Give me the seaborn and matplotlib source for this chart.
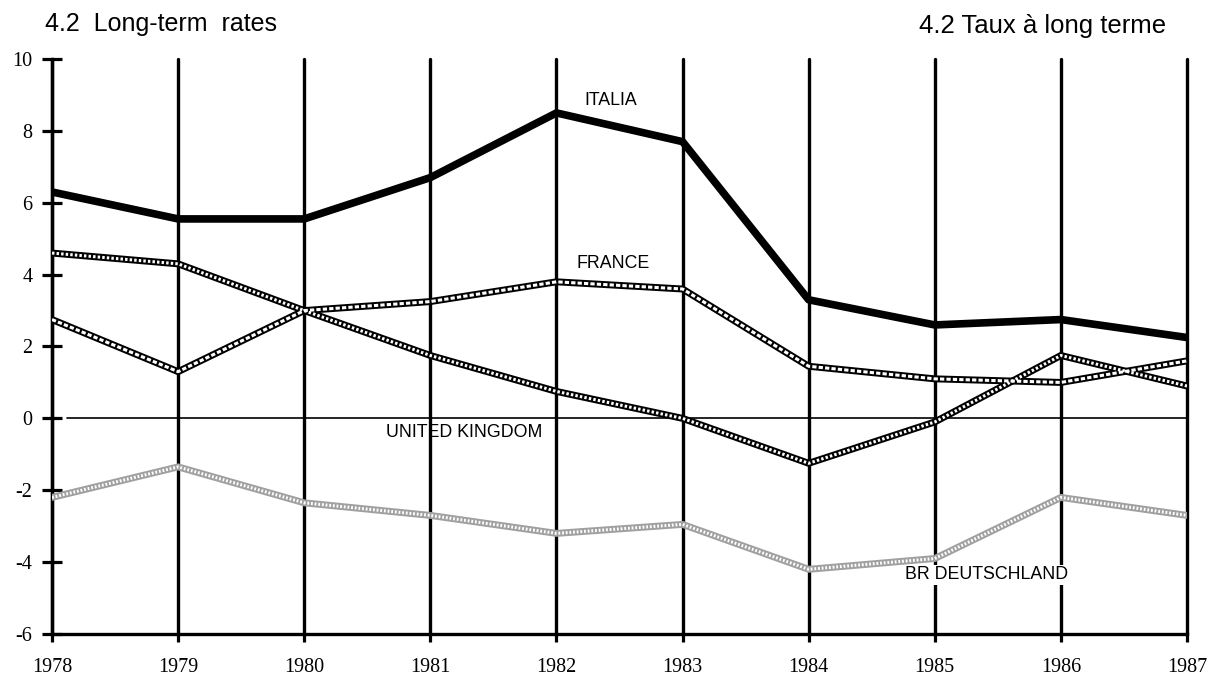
import numpy as np
import pandas as pd
import matplotlib
matplotlib.use("Agg")
import matplotlib.pyplot as plt
import seaborn as sns

# Long-term rates, differences
years = [1978, 1979, 1980, 1981, 1982, 1983, 1984, 1985, 1986, 1987]
italia = [6.3, 5.55, 5.55, 6.7, 8.5, 7.7, 3.3, 2.6, 2.75, 2.25]
france = [2.75, 1.3, 3.0, 3.25, 3.8, 3.6, 1.45, 1.1, 1.0, 1.6]
united_kingdom = [4.6, 4.3, 3.0, 1.75, 0.75, 0.0, -1.25, -0.1, 1.75, 0.9]
br_deutschland = [-2.2, -1.35, -2.35, -2.7, -3.2, -2.95, -4.2, -3.9, -2.2, -2.7]
y_ticks = [-6, -4, -2, 0, 2, 4, 6, 8, 10]

df = pd.DataFrame({"year": years, "ITALIA": italia, "FRANCE": france,
                   "UNITED KINGDOM": united_kingdom, "BR DEUTSCHLAND": br_deutschland})

sns.set_style("white", {"xtick.bottom": True, "ytick.left": True})
plt.rcParams['font.family'] = ['Liberation Sans', 'DejaVu Sans']
plt.rcParams['text.color'] = 'black'
plt.rcParams['xtick.color'] = 'black'
plt.rcParams['ytick.color'] = 'black'

fig = plt.figure(figsize=(12.21, 6.82), dpi=100)
ax = fig.add_axes([52 / 1221, 1 - 634 / 682, (1187 - 52) / 1221, (634 - 59) / 682])

# vertical year lines
for yr in years:
    ax.axvline(yr, color='black', lw=2.4, zorder=1, clip_on=False)
ax.axhline(0, xmin=0.013, color='black', lw=1.2, zorder=1)

# BR Deutschland: light grey stipple
sns.lineplot(data=df, x="year", y="BR DEUTSCHLAND", ax=ax, color='#a0a0a0', lw=5, zorder=3)
l = sns.lineplot(data=df, x="year", y="BR DEUTSCHLAND", ax=ax, color='white', lw=2.2, zorder=4).lines[-1]
l.set_linestyle((0, (0.6, 0.6)))

# United Kingdom: crossed chain
sns.lineplot(data=df, x="year", y="UNITED KINGDOM", ax=ax, color='black', lw=5, zorder=3)
l = sns.lineplot(data=df, x="year", y="UNITED KINGDOM", ax=ax, color='white', lw=2.2, zorder=4).lines[-1]
l.set_linestyle((0, (0.8, 0.7)))

# France: linked chain
sns.lineplot(data=df, x="year", y="FRANCE", ax=ax, color='black', lw=5, zorder=3)
l = sns.lineplot(data=df, x="year", y="FRANCE", ax=ax, color='white', lw=2.2, zorder=4).lines[-1]
l.set_linestyle((0, (1.4, 0.7)))

# Italia: thick solid
sns.lineplot(data=df, x="year", y="ITALIA", ax=ax, color='black', lw=5.5, zorder=5)

ax.set_xlim(1978, 1987)
ax.set_ylim(-6, 10)
ax.set_xticks(years)
ax.set_xticklabels([str(y) for y in years], family='Liberation Serif')
ax.set_yticks(y_ticks)
ax.set_yticklabels([str(t) for t in y_ticks], family='Liberation Serif')
ax.tick_params(axis='y', direction='inout', length=14, width=2.3, pad=7, labelsize=14.5,
               left=True)
ax.tick_params(axis='x', direction='out', length=6, width=2.3, pad=11, labelsize=14.5,
               bottom=True)
ax.set_xlabel('')
ax.set_ylabel('')

for s in ['top', 'right']:
    ax.spines[s].set_visible(False)
ax.spines['left'].set_linewidth(2.4)
ax.spines['bottom'].set_linewidth(2.4)
ax.spines['left'].set_color('black')
ax.spines['bottom'].set_color('black')

# series labels
lab = dict(fontsize=12.8, color='black', ha='center', va='center', zorder=6)
ax.text(1982.43, 8.85, 'ITALIA', **lab)
ax.text(1982.45, 4.3, 'FRANCE', **lab)
ax.text(1981.27, -0.39, 'UNITED KINGDOM', **lab)
ax.text(1985.41, -4.35, 'BR DEUTSCHLAND',
        bbox=dict(facecolor='white', edgecolor='none', pad=1), **lab)

fig.text(45 / 1221, 1 - 24 / 682, '4.2  Long-term  rates', fontsize=18, va='center', ha='left')
fig.text(1166 / 1221, 1 - 26 / 682, '4.2 Taux à long terme', fontsize=18.5, va='center', ha='right')

fig.savefig('out.png', dpi=100, facecolor='white')
